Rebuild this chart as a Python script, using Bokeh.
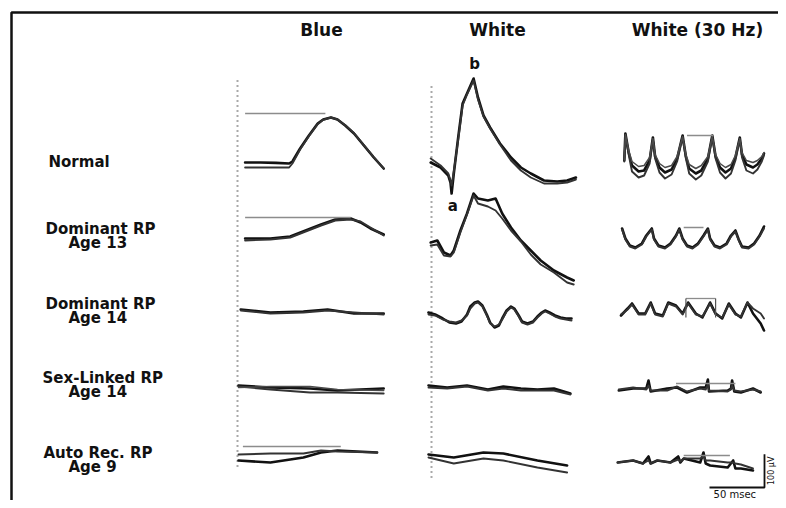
from bokeh.plotting import figure
from bokeh.models import Range1d
from bokeh.embed import file_html
from bokeh.resources import INLINE
from bokeh.core.properties import value
import math

# ---------------- data (time in msec, amplitude in microvolts) ----------------
column_titles = ["Blue", "White", "White (30 Hz)"]
row_titles = ["Normal", "Dominant RP", "Dominant RP", "Sex-Linked RP", "Auto Rec. RP"]
row_subtitles = ["", "Age 13", "Age 14", "Age 14", "Age 9"]

# Blue stimulus
blue_normal_t = [6, 20, 34, 46, 49, 56, 64, 72, 77, 84, 90, 97, 105, 114, 123, 132]
blue_normal_v1 = [9, 9, 8, 6, 12, 51, 90, 126, 138, 144, 138, 120, 96, 60, 24, -9]
blue_normal_v2 = [-6, -6, -6, -6, 6, 48, 88, 124, 137, 144, 138, 121, 97, 61, 25, -9]
blue_normal_ref = [156, 6, 79]          # level, t start, t end

blue_dom13_t = [6, 29, 47, 61, 75, 88, 102, 111, 120, 132]
blue_dom13_v1 = [6, 6, 12, 30, 48, 63, 66, 54, 36, 18]
blue_dom13_v2 = [0, 3, 9, 27, 45, 60, 63, 57, 39, 15]
blue_dom13_ref = [69, 6, 102]

blue_dom14_t = [2, 29, 59, 81, 105, 132]
blue_dom14_v1 = [9, 0, 3, 9, -3, -3]
blue_dom14_v2 = [6, -3, 0, 6, 0, -6]

blue_sex_t = [0, 29, 65, 90, 132]
blue_sex_v1 = [9, 3, 0, -6, 0]
blue_sex_v2 = [6, -3, -12, -12, -15]
blue_sex_v3 = [3, 6, 6, -3, -6]

blue_auto_t = [0, 29, 59, 75, 90, 126]
blue_auto_v1 = [-6, -12, 3, 18, 24, 18]
blue_auto_v2 = [12, 15, 15, 24, 21, 18]
blue_auto_ref = [36, 4, 93]

# White stimulus
white_normal_t = [2, 11, 18, 20, 21, 23, 27, 31, 35, 41, 45, 50, 56, 65, 75, 84, 93, 105, 117, 126, 134]
white_normal_v1 = [9, -6, -30, -51, -84, -24, 84, 186, 216, 261, 204, 150, 114, 66, 24, -6, -24, -45, -48, -45, -36]
white_normal_v2 = [21, 0, -24, -45, -60, -18, 78, 180, 213, 255, 198, 147, 111, 63, 15, -15, -36, -54, -54, -51, -42]

white_dom13_t = [2, 8, 14, 20, 23, 29, 35, 41, 45, 54, 61, 67, 75, 84, 93, 102, 114, 126, 132]
white_dom13_v1 = [-6, 0, -36, -45, -30, 30, 81, 141, 126, 120, 126, 81, 39, 0, -30, -60, -90, -111, -120]
white_dom13_v2 = [-15, -12, -45, -48, -36, 24, 78, 135, 111, 102, 90, 66, 30, -3, -42, -72, -96, -126, -132]

white_dom14_t = [0, 6, 13, 19, 25, 30, 35, 38, 42, 45, 49, 53, 56, 60, 64, 67, 71, 75, 78, 82, 85, 90, 95,
                 99, 103, 106, 110, 115, 120, 125, 130]
white_dom14_v1 = [0, -6, -18, -30, -33, -27, -6, 18, 30, 33, 21, -6, -30, -45, -39, -18, 6, 18, 12, -9, -27,
                  -33, -27, -12, 0, 6, 0, -9, -15, -18, -18]
white_dom14_v2 = [-6, -9, -21, -27, -30, -24, -9, 12, 27, 30, 18, -9, -33, -42, -36, -21, 3, 15, 9, -12, -30,
                  -36, -30, -15, -3, 3, -3, -12, -18, -21, -24]

white_sex_t = [0, 17, 35, 54, 68, 84, 99, 114, 129]
white_sex_v1 = [9, 3, 9, -3, 6, 0, -3, 0, -15]
white_sex_v2 = [3, 0, 6, -6, 0, -6, -6, -6, -18]

white_auto_t = [0, 23, 50, 68, 99, 126]
white_auto_v1 = [12, 3, 18, 15, -6, -21]
white_auto_v2 = [3, -15, 0, -6, -27, -42]

# White 30 Hz flicker
flk_normal_t = [8, 9, 12, 15, 21, 26, 31, 34, 36, 40, 45, 51, 56, 61, 64, 67, 73, 78, 84, 88, 91, 95, 100,
                105, 109, 113, 115, 119, 125, 129, 133, 135]
flk_normal_v1 = [15, 96, 39, 0, -18, -15, 15, 84, 27, -6, -21, -12, 21, 90, 27, -9, -24, -15, 21, 90, 27,
                 -6, -21, -9, 24, 84, 33, 3, -6, 3, 21, 36]
flk_normal_v2 = [12, 90, 33, -18, -36, -30, 6, 78, 21, -21, -39, -27, 12, 84, 21, -24, -42, -30, 12, 84, 21,
                 -21, -39, -24, 15, 78, 24, -15, -24, -12, 12, 30]
flk_normal_v3 = [18, 93, 45, 12, -3, 0, 24, 81, 33, 6, -6, 0, 27, 87, 33, 3, -9, 0, 27, 87, 33, 6, -6, 3,
                 30, 81, 39, 15, 9, 15, 27, 39]
flk_normal_ref = [90, 65, 89]

flk_dom13_t = [6, 9, 13, 18, 24, 28, 33, 35, 39, 45, 50, 55, 58, 61, 65, 70, 75, 80, 84, 86, 90, 95, 101,
               105, 109, 112, 115, 121, 126, 131, 135]
flk_dom13_v1 = [36, 6, -15, -21, -9, 15, 36, 6, -15, -21, -9, 15, 36, 6, -15, -21, -9, 15, 36, 6, -15,
                -21, -9, 15, 30, 3, -18, -21, -9, 15, 42]
flk_dom13_v2 = [33, 3, -18, -24, -12, 12, 33, 3, -18, -24, -12, 12, 33, 3, -18, -24, -12, 12, 33, 3, -18,
                -24, -12, 12, 27, 0, -21, -24, -12, 12, 36]
flk_dom13_ref = [39, 62, 80]

flk_dom14_t = [5, 11, 15, 21, 27, 32, 36, 43, 48, 55, 61, 66, 73, 79, 86, 91, 97, 103, 109, 114, 120, 125, 132, 135]
flk_dom14_v1 = [-9, 12, 27, -3, -3, 30, -3, -9, 30, 21, -3, 30, -3, -15, 30, -3, -18, 27, -3, -15, 30, -3, -33, -54]
flk_dom14_v2 = [-6, 9, 24, -6, -6, 27, -6, -12, 27, 18, -6, 27, -6, -12, 27, -6, -15, 24, -6, -12, 30, 12, -3, -18]
flk_dom14_ref = [42, 64, 91]

flk_sex_t = [3, 16, 28, 30, 32, 47, 56, 65, 77, 82, 84, 85, 102, 105, 106, 108, 114, 125, 132]
flk_sex_v1 = [-6, 0, 0, 24, -9, 0, 3, -12, 3, 3, 27, -9, -6, 0, 24, -9, -12, 0, -12]
flk_sex_v2 = [-3, 3, -3, 9, -6, -6, 6, -9, 0, -3, 12, -6, -9, -3, 9, -6, -9, -3, -9]
flk_sex_ref = [15, 55, 109]

flk_auto_t = [2, 16, 25, 30, 32, 38, 50, 57, 59, 62, 77, 80, 82, 86, 102, 107, 109, 114, 125]
flk_auto_v1 = [-12, -6, -15, 6, -15, -6, -12, 6, -12, 0, -12, 18, -15, -21, -27, -6, -30, -30, -36]
flk_auto_v2 = [-12, -6, -15, -6, -15, -6, -12, -3, -9, 0, 0, 6, -6, -6, -12, -12, -15, -18, -30]
flk_auto_ref = [9, 62, 104]

scale_ms = 50
scale_uv = 100

# ---------------- layout ----------------
W, H = 778, 500
PX_PER_MS = 1.1
PX_PER_UV = 1 / 3.0


def X(px):
    return px / PX_PER_MS


def Y(py):
    return (H - py) / PX_PER_UV


col_x = [X(238), X(428), X(615)]
row_y = [Y(165), Y(240), Y(312), Y(388), Y(458)]

panels = [
    (0, 0, blue_normal_t, [blue_normal_v1, blue_normal_v2], blue_normal_ref),
    (0, 1, blue_dom13_t, [blue_dom13_v1, blue_dom13_v2], blue_dom13_ref),
    (0, 2, blue_dom14_t, [blue_dom14_v1, blue_dom14_v2], None),
    (0, 3, blue_sex_t, [blue_sex_v1, blue_sex_v2, blue_sex_v3], None),
    (0, 4, blue_auto_t, [blue_auto_v1, blue_auto_v2], blue_auto_ref),
    (1, 0, white_normal_t, [white_normal_v1, white_normal_v2], None),
    (1, 1, white_dom13_t, [white_dom13_v1, white_dom13_v2], None),
    (1, 2, white_dom14_t, [white_dom14_v1, white_dom14_v2], None),
    (1, 3, white_sex_t, [white_sex_v1, white_sex_v2], None),
    (1, 4, white_auto_t, [white_auto_v1, white_auto_v2], None),
    (2, 0, flk_normal_t, [flk_normal_v1, flk_normal_v2, flk_normal_v3], flk_normal_ref),
    (2, 1, flk_dom13_t, [flk_dom13_v1, flk_dom13_v2], flk_dom13_ref),
    (2, 2, flk_dom14_t, [flk_dom14_v1, flk_dom14_v2], flk_dom14_ref),
    (2, 3, flk_sex_t, [flk_sex_v1, flk_sex_v2], flk_sex_ref),
    (2, 4, flk_auto_t, [flk_auto_v1, flk_auto_v2], flk_auto_ref),
]

p = figure(width=W, height=H, x_range=Range1d(0, W / PX_PER_MS), y_range=Range1d(0, H / PX_PER_UV),
           output_backend="svg", toolbar_location=None, min_border=0)
p.xaxis.visible = False
p.yaxis.visible = False
p.xgrid.visible = False
p.ygrid.visible = False
p.outline_line_color = None
p.background_fill_color = "white"
p.border_fill_color = "white"

FONT = value("DejaVu Sans")

# frame (top and left border of the scanned figure)
p.line([X(11), X(11), X(790)], [Y(510), Y(12), Y(12)], line_color="#111111", line_width=2.5)

# dotted vertical baselines
p.line([X(237), X(237)], [Y(80), Y(470)], line_color="#555555", line_width=2, line_dash="1 4")
p.line([X(431), X(431)], [Y(86), Y(478)], line_color="#555555", line_width=2, line_dash="1 4")

widths = [2.6, 1.9, 1.5]
colors = ["#111111", "#333333", "#4a4a4a"]
for c, r, t, vs, ref in panels:
    x0, y0 = col_x[c], row_y[r]
    xs = [x0 + ti for ti in t]
    for k, v in enumerate(vs):
        p.line(xs, [y0 + vi for vi in v], line_color=colors[k], line_width=widths[k],
               line_join="round", line_cap="round")
    if ref is not None:
        lvl, ta, tb = ref
        p.line([x0 + ta, x0 + tb], [y0 + lvl, y0 + lvl], line_color="#8c8c8c", line_width=1.3)
        if c == 2 and r == 2:
            # bracket box drawn on the Dominant RP flicker trace
            p.line([x0 + ta, x0 + ta], [y0 + lvl, y0 - 15], line_color="#555555", line_width=1.2)
            p.line([x0 + tb, x0 + tb], [y0 + lvl, y0 - 15], line_color="#555555", line_width=1.2)

# column headers
p.text(x=[X(321), X(497), X(697)], y=[Y(29)] * 3, text=column_titles,
       text_font=FONT, text_font_style="bold", text_font_size="17px",
       text_align="center", text_baseline="middle", text_color="#111111")

# row labels
title_y = [161, 228, 303, 377, 452]
sub_y = [175, 242, 317, 391, 466]
title_x = [48, 45, 45, 42, 43]
p.text(x=[X(v) for v in title_x], y=[Y(v) for v in title_y], text=row_titles,
       text_font=FONT, text_font_style="bold", text_font_size="15px",
       text_align="left", text_baseline="middle", text_color="#111111")
p.text(x=[X(68)] * 4, y=[Y(v) for v in sub_y[1:]], text=row_subtitles[1:],
       text_font=FONT, text_font_style="bold", text_font_size="15px",
       text_align="left", text_baseline="middle", text_color="#111111")

# a / b wave markers
p.text(x=[col_x[1] + 42, col_x[1] + 22], y=[row_y[0] + 306, row_y[0] - 120], text=["b", "a"],
       text_font=FONT, text_font_style="bold", text_font_size="15px",
       text_align="center", text_baseline="middle", text_color="#111111")

# calibration bar
cx, cy = X(764), Y(487)
p.line([cx - scale_ms, cx, cx], [cy, cy, cy + scale_uv], line_color="#111111", line_width=1.8)
p.text(x=[cx - scale_ms / 2 - 2], y=[Y(494)], text=["50 msec"], text_font=FONT,
       text_font_size="10px", text_align="center", text_baseline="middle", text_color="#111111")
p.text(x=[X(771)], y=[cy + scale_uv / 2], text=["100 µV"], angle=[math.pi / 2], text_font=FONT,
       text_font_size="8px", text_align="center", text_baseline="middle", text_color="#111111")

open("out.html", "w").write(file_html(p, INLINE))
